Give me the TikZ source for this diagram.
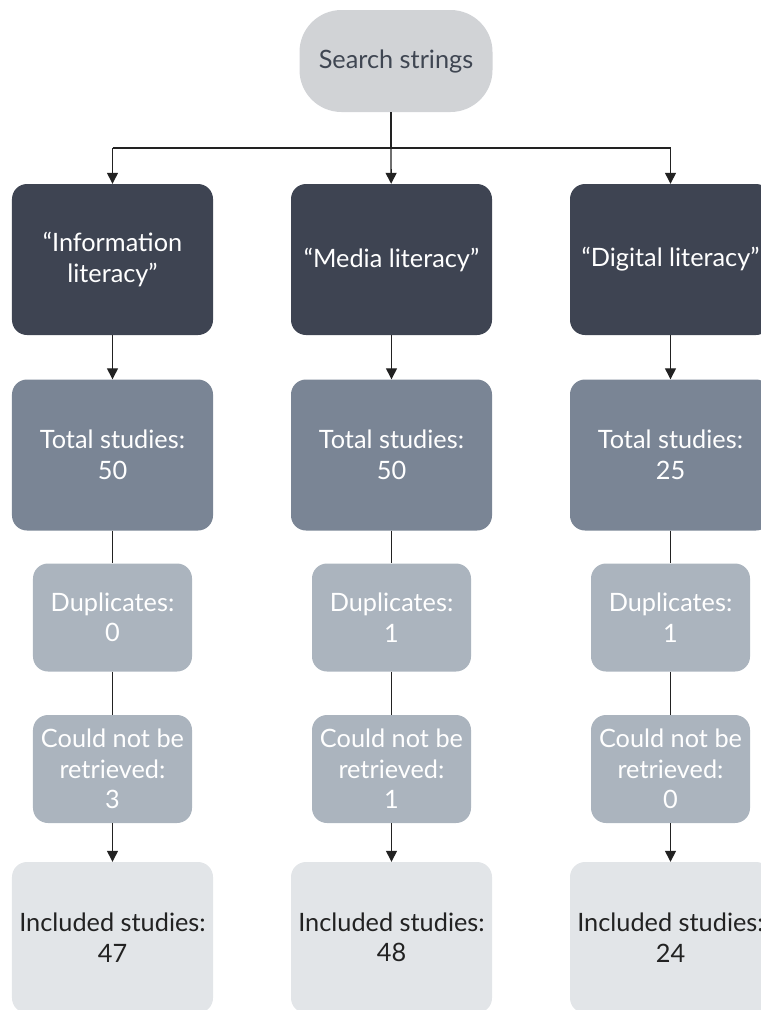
\documentclass[tikz,border=0pt]{standalone}
\usepackage{fontspec}
\setmainfont{Lato}
\usetikzlibrary{arrows.meta}

\begin{document}
\begin{tikzpicture}[x=1bp, y=-1bp, node distance=279bp, font=\fontsize{25.3bp}{30.5bp}\selectfont]

  \definecolor{my_search}{RGB}{209,211,214}
  \definecolor{my_search_text}{RGB}{63,70,82}
  \definecolor{my_dark}{RGB}{62,68,82}
  \definecolor{my_total}{RGB}{122,133,149}
  \definecolor{my_sub}{RGB}{171,180,190}
  \definecolor{my_incl}{RGB}{226,229,232}
  \definecolor{my_incl_text}{RGB}{34,34,34}
  \definecolor{my_wire}{RGB}{34,34,34}

  \tikzstyle{block} = [rectangle, inner sep=0pt, align=center, rounded corners=15bp, minimum width=201bp, minimum height=151bp, text=white]
  \tikzstyle{subblock} = [block, minimum width=159bp, minimum height=108bp, fill=my_sub]
  \tikzstyle{wire} = [draw, line width=1.3bp, my_wire]
  \tikzstyle{arrowwire} = [wire, -{Triangle[length=11bp, width=11bp]}]

  \useasboundingbox (0,0) rectangle (761,1010);

  % top
  \node [block, fill=my_search, text=my_search_text, rounded corners=42bp, minimum width=193bp, minimum height=102bp] (search) at (396,61) {Search strings};
  \coordinate (split) at (391,148);

  % search terms
  \node [block, fill=my_dark] (info) at (112.5,259.5) {“Information\\literacy”};
  \node [block, fill=my_dark, right of=info] (media) {“Media literacy”};
  \node [block, fill=my_dark, right of=media] (digital) {“Digital literacy”};

  % totals
  \node [block, fill=my_total] (info_total) at (112.5,455) {Total studies:\\50};
  \node [block, fill=my_total, right of=info_total] (media_total) {Total studies:\\50};
  \node [block, fill=my_total, right of=media_total] (digital_total) {Total studies:\\25};

  % duplicates
  \node [subblock] (info_dup) at (112.5,617.5) {Duplicates:\\0};
  \node [subblock, right of=info_dup] (media_dup) {Duplicates:\\1};
  \node [subblock, right of=media_dup] (digital_dup) {Duplicates:\\1};

  % not retrieved
  \node [subblock] (info_miss) at (112.5,769) {Could not be\\retrieved:\\3};
  \node [subblock, right of=info_miss] (media_miss) {Could not be\\retrieved:\\1};
  \node [subblock, right of=media_miss] (digital_miss) {Could not be\\retrieved:\\0};

  % included
  \node [block, fill=my_incl, text=my_incl_text] (info_incl) at (112.5,937.5) {Included studies:\\47};
  \node [block, fill=my_incl, text=my_incl_text, right of=info_incl] (media_incl) {Included studies:\\48};
  \node [block, fill=my_incl, text=my_incl_text, right of=media_incl] (digital_incl) {Included studies:\\24};

  \path [wire] (search.south -| split) -- (split);
  \path [wire] (info.north |- split) -- (digital.north |- split);
  \path [arrowwire] (info.north |- split) -- (info);
  \path [arrowwire] (split) -- (media);
  \path [arrowwire] (digital.north |- split) -- (digital);

  \path [arrowwire] (info) -- (info_total);
  \path [arrowwire] (media) -- (media_total);
  \path [arrowwire] (digital) -- (digital_total);

  \path [wire] (info_total) -- (info_dup);
  \path [wire] (media_total) -- (media_dup);
  \path [wire] (digital_total) -- (digital_dup);

  \path [wire] (info_dup) -- (info_miss);
  \path [wire] (media_dup) -- (media_miss);
  \path [wire] (digital_dup) -- (digital_miss);

  \path [arrowwire] (info_miss) -- (info_incl);
  \path [arrowwire] (media_miss) -- (media_incl);
  \path [arrowwire] (digital_miss) -- (digital_incl);

\end{tikzpicture}
\end{document}
